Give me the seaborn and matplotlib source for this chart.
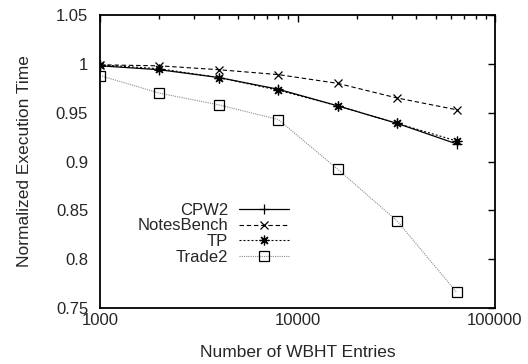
import matplotlib
matplotlib.use("Agg")
import matplotlib.pyplot as plt
import seaborn as sns
import pandas as pd
from matplotlib.ticker import FixedLocator, LogLocator, NullFormatter

entries = [1000, 2000, 4000, 8000, 16000, 32000, 64000]
cpw2 = [0.998, 0.994, 0.986, 0.974, 0.957, 0.939, 0.918]
notesbench = [0.999, 0.998, 0.994, 0.989, 0.980, 0.965, 0.953]
tp = [0.999, 0.995, 0.986, 0.973, 0.957, 0.939, 0.921]
trade2 = [0.988, 0.970, 0.958, 0.943, 0.892, 0.839, 0.766]
series_names = ["CPW2", "NotesBench", "TP", "Trade2"]
series_vals = [cpw2, notesbench, tp, trade2]
yticks = [0.75, 0.8, 0.85, 0.9, 0.95, 1.0, 1.05]
ytick_labels = ["0.75", "0.8", "0.85", "0.9", "0.95", "1", "1.05"]
xticks = [1000, 10000, 100000]
xtick_labels = ["1000", "10000", "100000"]

sns.set_style("white")
plt.rcParams["font.family"] = ["Liberation Sans", "DejaVu Sans"]
plt.rcParams["font.size"] = 12

fig = plt.figure(figsize=(5.28, 3.64), dpi=100)
ax = fig.add_axes([0.1894, 0.1538, 0.7481, 0.8049])

styles = {
    "CPW2": dict(color="#000000", ls="-", marker="+", lw=0.9, ms=7),
    "NotesBench": dict(color="#000000", ls=(0, (4, 2.5)), marker="x", lw=0.8, ms=6),
    "TP": dict(color="#000000", ls=(0, (1.8, 1.8)), marker=(8, 2, 0), lw=0.8, ms=7),
    "Trade2": dict(color="#8c8c8c", ls=(0, (1, 1)), marker="s", lw=0.8, ms=6.5),
}

for name, vals in zip(series_names, series_vals):
    d = pd.DataFrame({"x": entries, "y": vals})
    s = styles[name]
    sns.lineplot(data=d, x="x", y="y", ax=ax, color=s["color"], linestyle=s["ls"],
                 linewidth=s["lw"], marker=s["marker"], markersize=s["ms"],
                 markerfacecolor="none", markeredgecolor="#000000",
                 markeredgewidth=0.9, label=name)

ax.set_xscale("log")
ax.set_xlim(1000, 100000)
ax.set_ylim(0.75, 1.05)
ax.yaxis.set_major_locator(FixedLocator(yticks))
ax.set_yticklabels(ytick_labels)
ax.xaxis.set_major_locator(FixedLocator(xticks))
ax.set_xticklabels(xtick_labels)
ax.xaxis.set_minor_locator(LogLocator(base=10, subs=range(2, 10)))
ax.xaxis.set_minor_formatter(NullFormatter())

ax.tick_params(which="both", direction="in", top=True, right=True, color="black")
ax.tick_params(which="major", length=5, width=1)
ax.tick_params(which="minor", length=3, width=1)
ax.tick_params(axis="y", which="major", pad=8.5)
ax.tick_params(axis="x", which="major", pad=3.6)
for sp in ax.spines.values():
    sp.set_color("black")
    sp.set_linewidth(1.3)

ax.set_xlabel("Number of WBHT Entries", fontsize=12.5, labelpad=12)
ax.set_ylabel("Normalized Execution Time", fontsize=12.5, labelpad=17)

ax.legend(loc="upper right", bbox_to_anchor=(0.478, 0.36), frameon=False,
          markerfirst=False, handlelength=3.0, handletextpad=0.65,
          labelspacing=0.05, borderpad=0.0, borderaxespad=0.0, fontsize=12)

fig.savefig("out.png", dpi=100)
